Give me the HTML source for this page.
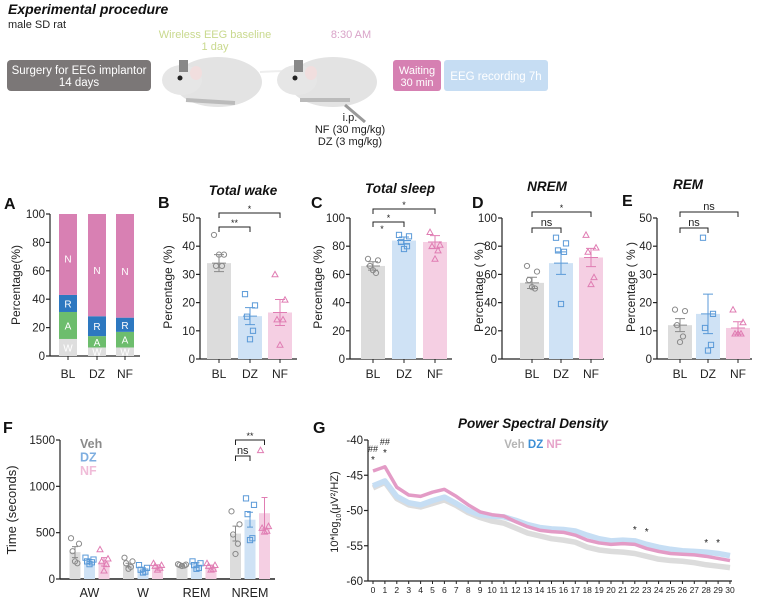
<!DOCTYPE html>
<html><head><meta charset="utf-8"><style>
html,body{margin:0;padding:0;background:#fff;}
svg{display:block;font-family:"Liberation Sans",Arial,sans-serif;}
</style></head><body>
<svg id="fig" width="760" height="601" viewBox="0 0 760 601" xmlns="http://www.w3.org/2000/svg">
<g>
<text x="8" y="14" font-size="14" font-weight="bold" font-style="italic" fill="#111">Experimental procedure</text>
<text x="8" y="28" font-size="11" fill="#222">male SD rat</text>
<rect x="7" y="60" width="144" height="31" rx="4" fill="#7b7777"/>
<text x="79" y="74" font-size="11.5" fill="#fff" text-anchor="middle">Surgery for EEG implantor</text>
<text x="79" y="86" font-size="11.5" fill="#fff" text-anchor="middle">14 days</text>
<text x="215" y="38" font-size="11" fill="#c9d98e" text-anchor="middle">Wireless EEG baseline</text>
<text x="215" y="50" font-size="11" fill="#c9d98e" text-anchor="middle">1 day</text>
<text x="351" y="38" font-size="11" fill="#d9a3c8" text-anchor="middle">8:30 AM</text>
<g>
<ellipse cx="218" cy="82" rx="44" ry="25" fill="#e3e3e3"/>
<ellipse cx="182" cy="80" rx="20" ry="15" fill="#e6e6e6"/>
<rect x="179" y="60" width="9" height="12" fill="#888"/>
<circle cx="180" cy="78" r="2.5" fill="#222"/>
<ellipse cx="196" cy="73" rx="6" ry="7" fill="#f1dede"/>
<path d="M186 100 L235 103" stroke="#bbb" stroke-width="4"/>
<path d="M260 72 Q290 70 320 72" stroke="#eee" stroke-width="2" fill="none"/>
</g>
<g>
<ellipse cx="333" cy="82" rx="44" ry="25" fill="#e3e3e3"/>
<ellipse cx="297" cy="80" rx="20" ry="15" fill="#e6e6e6"/>
<rect x="294" y="60" width="9" height="12" fill="#888"/>
<circle cx="295" cy="78" r="2.5" fill="#222"/>
<ellipse cx="311" cy="73" rx="6" ry="7" fill="#f1dede"/>
<path d="M300 100 L350 100" stroke="#bbb" stroke-width="4"/>
<path d="M345 105 L365 122" stroke="#999" stroke-width="3"/>
</g>
<text x="350" y="121" font-size="11" fill="#222" text-anchor="middle">i.p.</text>
<text x="350" y="133" font-size="11" fill="#222" text-anchor="middle">NF (30 mg/kg)</text>
<text x="350" y="145" font-size="11" fill="#222" text-anchor="middle">DZ (3 mg/kg)</text>
<rect x="393" y="60" width="48" height="31" rx="3" fill="#d680b2"/>
<text x="417" y="74" font-size="11" fill="#fff" text-anchor="middle">Waiting</text>
<text x="417" y="86" font-size="11" fill="#fff" text-anchor="middle">30 min</text>
<rect x="444" y="60" width="104" height="31" rx="3" fill="#c6ddf3"/>
<text x="496" y="80" font-size="11.5" fill="#fff" text-anchor="middle">EEG recording 7h</text>
</g>
<g id="charts"></g>
</svg>
<script>
// ---------- data ----------
const groups = ["BL","DZ","NF"];
const stackW = [12, 6, 6];
const stackA = [19, 8, 11];
const stackR = [12, 14, 10];
const wakeMeans = [34, 15.2, 16.5];
const wakeSem = [3, 3, 4.6];
const wakePts = [[44,37,33,33,37],[23,19,15,10,7],[30,21,14,14,5]];
const sleepMeans = [66, 84, 83];
const sleepSem = [3, 2.5, 4.5];
const sleepPts = [[71,70,66,61,63],[88,87,83,80,78],[90,81,80,77,71]];
const nremMeans = [54, 68, 72];
const nremSem = [4, 8, 6.5];
const nremPts = [[66,62,56,50,51],[86,82,77,76,39],[88,79,76,58,53]];
const remMeans = [12, 16, 11];
const remSem = [2.3, 7, 2.2];
const remPts = [[17.5,17,12,8,6],[43,16,11,5,3],[17.5,13,9,9,9]];
const fCats = ["AW","W","REM","NREM"];
const fVeh = [290, 150, 145, 490];
const fDZ = [190, 100, 150, 640];
const fNF = [185, 135, 130, 710];
const fVehSem = [60, 20, 8, 80];
const fDZSem = [20, 20, 25, 80];
const fNFSem = [45, 18, 20, 170];
const fVehPts = [[440,380,300,170,190],[230,190,170,130,110],[160,155,150,145,140],[730,590,480,380,270]];
const fDZPts = [[230,210,190,180,160],[150,120,100,80,70],[190,170,150,120,110],[870,800,700,440,420]];
const fNFPts = [[320,220,190,160,90],[170,150,140,120,100],[170,150,140,110,100],[1390,570,550,520,510]];
const freqs = [0,1,2,3,4,5,6,7,8,9,10,11,12,13,14,15,16,17,18,19,20,21,22,23,24,25,26,27,28,29,30];
const psdVeh = [-46.8,-46,-48.3,-49.2,-49.5,-49,-48.5,-49.3,-50.3,-51,-51.5,-51.8,-52.5,-53.2,-53.6,-54,-54.2,-54.5,-55.2,-55.6,-55.8,-55.9,-56.1,-56.5,-56.9,-57.1,-57.2,-57.4,-57.7,-57.9,-58.1];
const psdDZ = [-46.5,-45.8,-48,-48.9,-49.2,-48.6,-48.1,-49,-50,-50.6,-50.8,-50.9,-51.4,-52,-52.4,-52.6,-52.7,-52.9,-53.5,-54,-54.3,-54.2,-54.3,-54.8,-55.2,-55.5,-55.7,-55.8,-55.9,-56.1,-56.4];
const psdNF = [-44.4,-43.8,-46.7,-47.8,-48,-47.4,-47,-48,-49.2,-50.2,-50.6,-50.8,-51.6,-52.3,-52.8,-53,-53.1,-53.5,-54.2,-54.6,-54.8,-54.7,-54.8,-55.4,-55.8,-56.1,-56.2,-56.3,-56.5,-56.8,-57.1];
const psdTicks = [-40,-45,-50,-55,-60];

// ---------- helpers ----------
const NS = "http://www.w3.org/2000/svg";
const root = document.getElementById("charts");
function mk(tag, attrs, parent, txt) {
  const e = document.createElementNS(NS, tag);
  for (const k in attrs) e.setAttribute(k, attrs[k]);
  if (txt !== undefined) e.textContent = txt;
  (parent || root).appendChild(e);
  return e;
}
const barFill = ["#dcdcdc", "#cfe2f5", "#f5cfe3"];
const ptCol = ["#8a8a8a", "#5b9ad8", "#e07db3"];
const jit = [-5, 5, -3, 3, 0];
function marker(g, shape, x, y, col) {
  let e;
  if (shape === 0) e = mk("circle", {cx: x, cy: y, r: 2.6, fill: "none", stroke: col, "stroke-width": 1}, g);
  else if (shape === 1) e = mk("rect", {x: x - 2.6, y: y - 2.6, width: 5.2, height: 5.2, fill: "none", stroke: col, "stroke-width": 1}, g);
  else e = mk("path", {d: `M${x} ${y-3}L${x+3} ${y+2.4}L${x-3} ${y+2.4}Z`, fill: "none", stroke: col, "stroke-width": 1}, g);
  
  
}
function yAxis(g, ax, y0, y1, ticks, max, min) {
  min = min || 0;
  const sc = v => y0 - (v - min) / (max - min) * (y0 - y1);
  const l = mk("line", {x1: ax, x2: ax, y1: y0, y2: y1, stroke: "#222", "stroke-width": 1.2}, g);
  
  
  ticks.forEach(t => {
    mk("line", {x1: ax - 4, x2: ax, y1: sc(t), y2: sc(t), stroke: "#222", "stroke-width": 1.2}, g);
    const tx = mk("text", {x: ax - 5, y: sc(t) + 4, "font-size": 11.5, "text-anchor": "end", fill: "#222"}, g, t);
    
    
  });
  return sc;
}
function bracket(g, x1, x2, y, label) {
  mk("path", {d: `M${x1} ${y+5}V${y}H${x2}V${y+5}`, fill: "none", stroke: "#222", "stroke-width": 1}, g);
  const t = mk("text", {x: (x1 + x2) / 2, y: label === "ns" ? y - 2 : y - 1, "font-size": label === "ns" ? 11 : 9, "text-anchor": "middle", fill: "#222"}, g, label);
  
  
}
function rotLabel(g, x, y, txt, size) {
  const t = mk("text", {x: x, y: y, "font-size": size || 12, "text-anchor": "middle", fill: "#222", transform: `rotate(-90 ${x} ${y})`}, g, txt);
  
  
}
function panelLetter(g, x, y, L) {
  const t = mk("text", {x: x, y: y, "font-size": 16, "font-weight": "bold", fill: "#111"}, g, L);
  
  
}
function title(g, x, y, s) {
  const t = mk("text", {x: x, y: y, "font-size": 13.5, "font-weight": "bold", "font-style": "italic", "text-anchor": "middle", fill: "#111"}, g, s);
  
  
}
function barPanel(name, ax, axEnd, centers, max, ticks, means, sems, pts, bw) {
  const g = mk("g", {});
  
  
  const y0 = 359, y1 = 218;
  const sc = yAxis(g, ax, y0, y1, ticks, max);
  mk("line", {x1: ax, x2: axEnd, y1: y0, y2: y0, stroke: "#222", "stroke-width": 1.2}, g);
  groups.forEach((gr, i) => {
    const cx = centers[i];
    const b = mk("rect", {x: cx - bw / 2, y: sc(means[i]), width: bw, height: y0 - sc(means[i]), fill: barFill[i]}, g);
    
    
    mk("path", {d: `M${cx} ${sc(means[i]+sems[i])}V${sc(means[i]-sems[i])}M${cx-5} ${sc(means[i]+sems[i])}H${cx+5}M${cx-5} ${sc(means[i]-sems[i])}H${cx+5}M${cx-7} ${sc(means[i])}H${cx+7}`, stroke: ptCol[i], "stroke-width": 1, fill: "none"}, g);
    pts[i].forEach((v, k) => marker(g, i, cx + jit[k], sc(v), ptCol[i]));
    mk("line", {x1: cx, x2: cx, y1: y0, y2: y0 + 4, stroke: "#222"}, g);
    const t = mk("text", {x: cx, y: 378, "font-size": 12, "text-anchor": "middle", fill: "#222"}, g, gr);
    
    
  });
  return g;
}

// ---------- Panel A (stacked) ----------
(function () {
  const g = mk("g", {});
  
  
  const ax = 50, y0 = 356, y1 = 214;
  const sc = yAxis(g, ax, y0, y1, [0, 20, 40, 60, 80, 100], 100);
  mk("line", {x1: ax, x2: 140, y1: y0, y2: y0, stroke: "#222", "stroke-width": 1.2}, g);
  const centers = [68, 97, 125];
  const cols = ["#dedede", "#6dbd6d", "#2d78c0", "#d880b3"];
  const lbl = ["W", "A", "R", "N"];
  groups.forEach((gr, i) => {
    const segs = [stackW[i], stackA[i], stackR[i], 100 - stackW[i] - stackA[i] - stackR[i]];
    let acc = 0;
    segs.forEach((v, k) => {
      const r = mk("rect", {x: centers[i] - 9, y: sc(acc + v), width: 18, height: sc(acc) - sc(acc + v), fill: cols[k]}, g);
      
      
      const ly = k === 3 ? sc(acc + v * 0.45) : sc(acc + v / 2);
      mk("text", {x: centers[i], y: ly + 4, "font-size": 10, fill: "#fff", "text-anchor": "middle"}, g, lbl[k]);
      acc += v;
    });
    mk("line", {x1: centers[i], x2: centers[i], y1: y0, y2: y0 + 4, stroke: "#222"}, g);
    const t = mk("text", {x: centers[i], y: 378, "font-size": 12, "text-anchor": "middle", fill: "#222"}, g, gr);
    
    
  });
  rotLabel(g, 20, 285, "Percentage(%)");
  panelLetter(g, 4, 209, "A");
})();

// ---------- Panels B-E ----------
let gB = barPanel("panel-b-total-wake", 200, 297, [219, 250, 280], 50, [0,10,20,30,40,50], wakeMeans, wakeSem, wakePts, 24);
rotLabel(gB, 172, 287, "Percentage (%)"); panelLetter(gB, 158, 208, "B"); title(gB, 243, 195, "Total wake");
bracket(gB, 219, 280, 213, "*"); bracket(gB, 219, 250, 227, "**");
let gC = barPanel("panel-c-total-sleep", 350, 452, [373, 404, 435], 100, [0,20,40,60,80,100], sleepMeans, sleepSem, sleepPts, 24);
rotLabel(gC, 322, 287, "Percentage (%)"); panelLetter(gC, 311, 208, "C"); title(gC, 400, 193, "Total sleep");
bracket(gC, 373, 435, 209, "*"); bracket(gC, 373, 404, 222, "*");
mk("text", {x: 382, y: 232, "font-size": 9, "text-anchor": "middle", fill: "#222"}, gC, "*");
let gD = barPanel("panel-d-nrem", 502, 604, [532, 561, 591], 100, [0,20,40,60,80,100], nremMeans, nremSem, nremPts, 24);
rotLabel(gD, 483, 287, "Percentage ( % )"); panelLetter(gD, 472, 208, "D"); title(gD, 547, 191, "NREM");
bracket(gD, 532, 591, 212, "*"); bracket(gD, 532, 561, 228, "ns");
let gE = barPanel("panel-e-rem", 657, 752, [680, 708, 738], 50, [0,10,20,30,40,50], remMeans, remSem, remPts, 24);
rotLabel(gE, 635, 287, "Percentage ( % )"); panelLetter(gE, 622, 206, "E"); title(gE, 688, 189, "REM");
bracket(gE, 680, 738, 212, "ns"); bracket(gE, 680, 708, 228, "ns");

// ---------- Panel F ----------
(function () {
  const g = mk("g", {});
  
  
  const ax = 60, y0 = 579, y1 = 440;
  const sc = yAxis(g, ax, y0, y1, [0, 500, 1000, 1500], 1500);
  mk("line", {x1: ax, x2: 275, y1: y0, y2: y0, stroke: "#222", "stroke-width": 1.6}, g);
  const series = [fVeh, fDZ, fNF], sems = [fVehSem, fDZSem, fNFSem], pts = [fVehPts, fDZPts, fNFPts];
  const sname = ["veh", "dz", "nf"];
  fCats.forEach((c, ci) => {
    const base = 75 + ci * 53.5;
    series.forEach((s, si) => {
      const cx = base + si * 14.5;
      const b = mk("rect", {x: cx - 5.5, y: sc(s[ci]), width: 11, height: y0 - sc(s[ci]), fill: barFill[si]}, g);
      
      
      const m = s[ci], e = sems[si][ci];
      mk("path", {d: `M${cx} ${sc(m+e)}V${sc(m-e)}M${cx-3} ${sc(m+e)}H${cx+3}M${cx-3} ${sc(m-e)}H${cx+3}`, stroke: ptCol[si], "stroke-width": 1, fill: "none"}, g);
      pts[si][ci].forEach((v, k) => marker(g, si, cx + jit[k] * 0.8, sc(v), ptCol[si]));
    });
    const t = mk("text", {x: base + 14.5, y: 597, "font-size": 12.5, "text-anchor": "middle", fill: "#222"}, g, c);
    
    
  });
  const nb = 75 + 3 * 53.5;
  bracket(g, nb, nb + 29, 440, "**"); bracket(g, nb, nb + 14.5, 456, "ns");
  [["Veh", "#8a8a8a"], ["DZ", "#7eaee0"], ["NF", "#f0bcd8"]].forEach((l, i) => {
    const t = mk("text", {x: 80, y: 448 + i * 13.5, "font-size": 12.5, "font-weight": "bold", fill: l[1]}, g, l[0]);
    
    
  });
  rotLabel(g, 16, 510, "Time (seconds)", 13);
  panelLetter(g, 3, 433, "F");
})();

// ---------- Panel G ----------
(function () {
  const g = mk("g", {});
  
  
  const ax = 368, y0 = 581, y1 = 440;
  const sc = yAxis(g, ax, y0, y1, psdTicks, -40, -60);
  const xs = f => 373 + f * (730 - 373) / 30;
  mk("line", {x1: ax, x2: 732, y1: y0, y2: y0, stroke: "#222", "stroke-width": 1.2}, g);
  freqs.forEach(f => {
    mk("line", {x1: xs(f), x2: xs(f), y1: y0, y2: y0 + 3, stroke: "#222"}, g);
    const t = mk("text", {x: xs(f), y: 593, "font-size": 8.5, "text-anchor": "middle", fill: "#222"}, g, f);
    
    
  });
  [[psdVeh, "#dcdcdc", "line-veh", 5.5], [psdDZ, "#c6def4", "line-dz", 5.5], [psdNF, "#e39bc6", "line-nf", 3.5]].forEach(s => {
    const d = s[0].map((v, i) => (i ? "L" : "M") + xs(freqs[i]) + " " + sc(v)).join("");
    const p = mk("path", {d: d, fill: "none", stroke: s[1], "stroke-width": s[3], "stroke-linejoin": "round"}, g);
    
    
  });
  const ann = [[0, 452, "##"], [0, 463, "*"], [1, 445, "##"], [1, 456, "*"], [22, 533, "*"], [23, 535, "*"], [28, 546, "*"], [29, 546, "*"]];
  ann.forEach(a => mk("text", {x: xs(a[0]), y: a[1], "font-size": a[2] === "*" ? 10 : 9, "text-anchor": "middle", fill: "#222"}, g, a[2]));
  title(g, 533, 428, "Power Spectral Density");
  const lg = mk("text", {x: 533, y: 448, "font-size": 11.5, "font-weight": "bold", "text-anchor": "middle"}, g);
  
  
  mk("tspan", {fill: "#b5b5b5"}, lg, "Veh ");
  mk("tspan", {fill: "#3d8fd6"}, lg, "DZ ");
  mk("tspan", {fill: "#e6a3c9"}, lg, "NF");
  const yl = mk("text", {x: 338, y: 512, "font-size": 11, "text-anchor": "middle", fill: "#222", transform: "rotate(-90 338 512)"}, g);
  
  
  mk("tspan", {}, yl, "10*log");
  mk("tspan", {"font-size": 7, dy: 3}, yl, "10");
  mk("tspan", {dy: -3}, yl, "(μV²/HZ)");
  panelLetter(g, 313, 433, "G");
})();
</script>
</body></html>
